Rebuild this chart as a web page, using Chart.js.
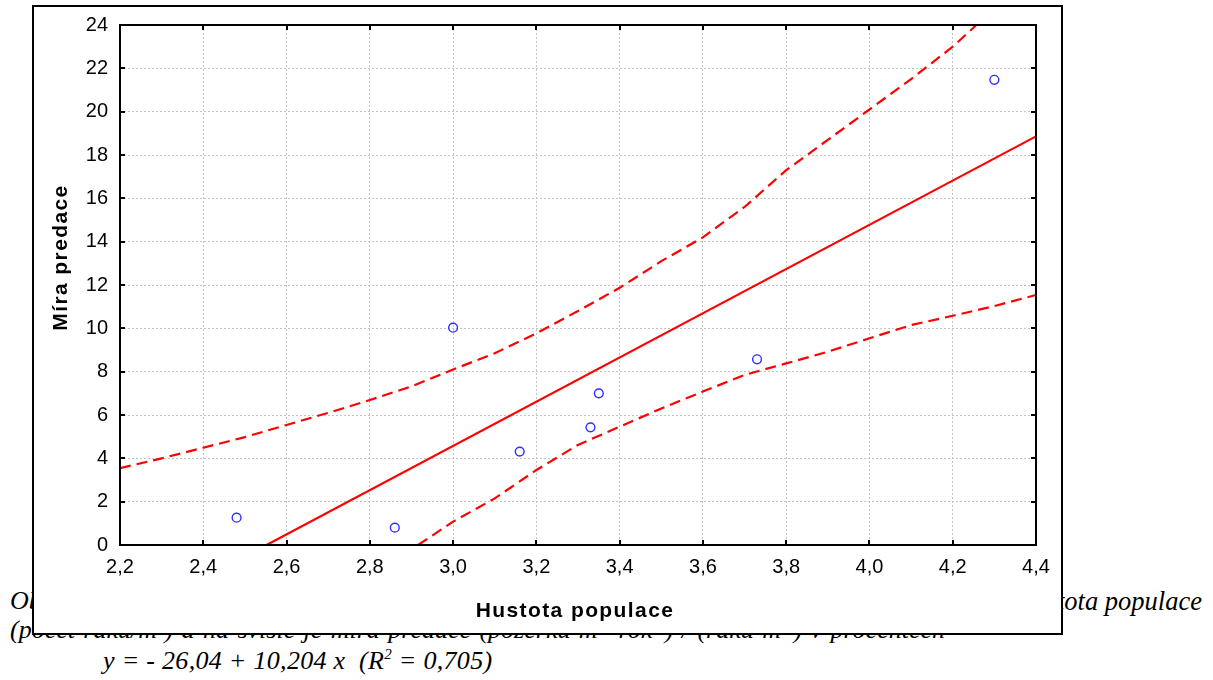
<!DOCTYPE html>
<html><head><meta charset="utf-8">
<script src="https://cdn.jsdelivr.net/npm/chart.js@4.4.1/dist/chart.umd.min.js"></script>
<style>
html,body{margin:0;padding:0;background:#fff;width:1213px;height:680px;overflow:hidden;position:relative;}
.cap{position:absolute;font-family:"Liberation Serif","Times New Roman",serif;font-style:italic;font-size:26px;line-height:26px;color:#000;white-space:nowrap;}
.sup{position:relative;top:-10px;font-size:15px;}
#box{position:absolute;left:32px;top:5px;width:1027px;height:626px;border:2px solid #000;background:#fff;z-index:2;}
canvas{display:block;}
</style></head><body>
<div class="cap" style="left:10px;top:588px;">Obr. 3: Závislost míry predace na hustotě populace raků.</div>
<div class="cap" style="right:11px;top:588px;font-size:26.5px;">Na vodorovné ose je hustota populace</div>
<div class="cap" id="l2" data-w="935" style="left:10px;top:617px;"><span class="t">(počet raků/m<span class="sup">2</span>) a na svislé je míra predace (pozerků m<span class="sup">-2</span> rok<span class="sup">-1</span>) / (raků m<span class="sup">-2</span>) v procentech</span></div>
<div class="cap" style="left:103px;top:648px;letter-spacing:0.3px;">y = - 26,04 + 10,204 x&nbsp; (R<span class="sup">2</span> = 0,705)</div>
<div id="box"><canvas id="c" width="1027" height="626"></canvas></div>
<script>
// ---- data ----
const predX = [2.48, 2.86, 3.00, 3.16, 3.33, 3.35, 3.73, 4.30];
const predY = [1.26, 0.80, 10.03, 4.31, 5.43, 7.00, 8.57, 21.47];

const fitX = [2.552, 4.40];
const fitY = [0.00, 18.86];

const upperX = [2.2, 2.3, 2.4, 2.5, 2.6, 2.7, 2.8, 2.9, 3.0, 3.1, 3.2, 3.3, 3.4, 3.5, 3.6, 3.7, 3.8, 3.9, 4.0, 4.1, 4.2, 4.257];
const upperY = [3.55, 4.0, 4.49, 4.98, 5.54, 6.1, 6.69, 7.32, 8.1, 8.85, 9.77, 10.8, 11.87, 13.1, 14.2, 15.6, 17.3, 18.7, 20.1, 21.5, 23.0, 24.0];

const lowerX = [2.916, 3.0, 3.1, 3.2, 3.3, 3.4, 3.5, 3.6, 3.7, 3.8, 3.9, 4.0, 4.1, 4.2, 4.3, 4.4];
const lowerY = [0.0, 1.08, 2.15, 3.46, 4.62, 5.46, 6.3, 7.08, 7.85, 8.38, 8.92, 9.54, 10.15, 10.58, 11.03, 11.54];

const xTickValues = [2.2, 2.4, 2.6, 2.8, 3.0, 3.2, 3.4, 3.6, 3.8, 4.0, 4.2, 4.4];
const xTickLabels = ['2,2','2,4','2,6','2,8','3,0','3,2','3,4','3,6','3,8','4,0','4,2','4,4'];
const yTickValues = [0, 2, 4, 6, 8, 10, 12, 14, 16, 18, 20, 22, 24];
const yTickLabels = ['0','2','4','6','8','10','12','14','16','18','20','22','24'];

const xTitle = 'Hustota populace';
const yTitle = 'Míra predace';

// justify caption line behind the chart
document.querySelectorAll('.cap[data-w]').forEach(el => {
  const s = el.querySelector('.t');
  const nat = s.getBoundingClientRect().width;
  const n = (s.textContent.match(/ /g) || []).length;
  el.style.wordSpacing = ((+el.dataset.w - nat) / n) + 'px';
});

const pts = (xs, ys) => xs.map((x, i) => ({x: x, y: ys[i]}));

const frame = {
  id: 'frame',
  afterDatasetsDraw(chart) {
    const {ctx, chartArea: a, scales: {x, y}} = chart;
    ctx.save();
    ctx.strokeStyle = '#000';
    ctx.lineWidth = 2;
    ctx.beginPath();
    ctx.rect(a.left, a.top, a.right - a.left, a.bottom - a.top);
    ctx.stroke();
    ctx.beginPath();
    xTickValues.forEach(v => {
      const px = Math.round(x.getPixelForValue(v));
      ctx.moveTo(px, a.top); ctx.lineTo(px, a.top + 5);
      ctx.moveTo(px, a.bottom); ctx.lineTo(px, a.bottom - 5);
    });
    yTickValues.forEach(v => {
      const py = Math.round(y.getPixelForValue(v));
      ctx.moveTo(a.left, py); ctx.lineTo(a.left + 5, py);
      ctx.moveTo(a.right, py); ctx.lineTo(a.right - 5, py);
    });
    ctx.stroke();
    ctx.fillStyle = '#000';
    ctx.font = 'bold 21px "Liberation Sans", Arial, sans-serif';
    if ('letterSpacing' in ctx) ctx.letterSpacing = '1.4px';
    ctx.textAlign = 'center';
    ctx.textBaseline = 'alphabetic';
    ctx.fillText(xTitle, 541, 610);
    ctx.translate(33, 250.5);
    ctx.rotate(-Math.PI / 2);
    ctx.fillText(yTitle, 0, 0);
    ctx.restore();
  }
};

new Chart(document.getElementById('c'), {
  type: 'scatter',
  data: {
    datasets: [
      {data: pts(predX, predY), showLine: false, pointStyle: 'circle', pointRadius: 4.4, pointBorderWidth: 1.4,
       borderColor: '#2f2fff', backgroundColor: 'rgba(0,0,0,0)', pointBackgroundColor: 'rgba(0,0,0,0)', pointBorderColor: '#2f2fff'},
      {data: pts(fitX, fitY), showLine: true, pointRadius: 0, borderColor: '#ff0000', borderWidth: 2.2},
      {data: pts(upperX, upperY), showLine: true, pointRadius: 0, borderColor: '#ff0000', borderWidth: 2.2, borderDash: [11, 6]},
      {data: pts(lowerX, lowerY), showLine: true, pointRadius: 0, borderColor: '#ff0000', borderWidth: 2.2, borderDash: [11, 6]}
    ]
  },
  options: {
    responsive: false,
    animation: false,
    events: [],
    layout: {padding: {top: 18, right: 25, left: 0, bottom: 0}},
    plugins: {legend: {display: false}, tooltip: {enabled: false}},
    scales: {
      x: {
        type: 'linear', min: 2.2, max: 4.4,
        afterBuildTicks: s => { s.ticks = xTickValues.map(v => ({value: v})); },
        afterFit: s => { s.height = 88; s.paddingLeft = 0; s.paddingRight = 0; },
        ticks: {color: '#000', padding: 10, maxRotation: 0, autoSkip: false,
                font: {family: '"Liberation Sans", Arial, sans-serif', size: 20},
                callback: (v, i) => xTickLabels[i]},
        grid: {color: '#c4c4c4', lineWidth: 1, drawTicks: false},
        border: {display: false, dash: [2, 2]}
      },
      y: {
        type: 'linear', min: 0, max: 24,
        afterBuildTicks: s => { s.ticks = yTickValues.map(v => ({value: v})); },
        afterFit: s => { s.width = 86; s.paddingTop = 0; s.paddingBottom = 0; },
        ticks: {color: '#000', padding: 12, autoSkip: false,
                font: {family: '"Liberation Sans", Arial, sans-serif', size: 20},
                callback: (v, i) => yTickLabels[i]},
        grid: {color: '#c4c4c4', lineWidth: 1, drawTicks: false},
        border: {display: false, dash: [2, 2]}
      }
    }
  },
  plugins: [frame]
});
</script>
</body></html>
